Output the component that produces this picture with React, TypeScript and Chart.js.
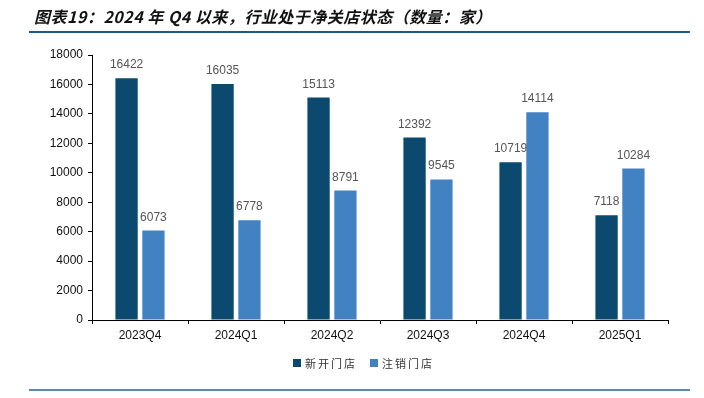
import React, { useEffect, useRef } from "react";
import { Chart, registerables } from "chart.js";

Chart.register(...registerables);

const categories = ["2023Q4", "2024Q1", "2024Q2", "2024Q3", "2024Q4", "2025Q1"];
const openedStores = [16422, 16035, 15113, 12392, 10719, 7118];
const closedStores = [6073, 6778, 8791, 9545, 14114, 10284];
const seriesNames = ["新开门店", "注销门店"];
const yTicks = [0, 2000, 4000, 6000, 8000, 10000, 12000, 14000, 16000, 18000];
const titleText = "图表19：2024 年 Q4 以来，行业处于净关店状态（数量：家）";

const DARK = "#0b4a6e";
const LIGHT = "#4382c2";

const valueLabels = {
  id: "valueLabels",
  afterDatasetsDraw(chart: any) {
    const ctx = chart.ctx;
    ctx.save();
    ctx.font = "12px 'Liberation Sans', Arial, sans-serif";
    ctx.fillStyle = "#555555";
    ctx.textAlign = "center";
    ctx.textBaseline = "alphabetic";
    chart.data.datasets.forEach((ds: any, i: number) => {
      const meta = chart.getDatasetMeta(i);
      meta.data.forEach((el: any, j: number) => {
        ctx.fillText(String(ds.data[j]), el.x, el.y - 10);
      });
    });
    ctx.restore();
  },
};

export default function App() {
  const ref = useRef<HTMLCanvasElement | null>(null);
  useEffect(() => {
    if (!ref.current) return;
    const chart = new Chart(ref.current, {
      type: "bar",
      data: {
        labels: categories,
        datasets: [
          {
            label: seriesNames[0],
            data: openedStores,
            backgroundColor: DARK,
            barPercentage: 0.83,
            categoryPercentage: 0.56,
          },
          {
            label: seriesNames[1],
            data: closedStores,
            backgroundColor: LIGHT,
            barPercentage: 0.83,
            categoryPercentage: 0.56,
          },
        ],
      },
      options: {
        responsive: false,
        animation: false,
        layout: { padding: { left: 0, top: 55, right: 36, bottom: 0 } },
        plugins: {
          legend: { display: false },
          tooltip: { enabled: false },
          title: { display: false },
        },
        scales: {
          x: {
            afterFit: (s: any) => {
              s.height = 78;
            },
            grid: {
              display: true,
              drawOnChartArea: false,
              offset: true,
              tickLength: 4,
              color: "#000",
            },
            border: { display: true, color: "#000", width: 1 },
            ticks: {
              color: "#111",
              font: { size: 12, family: "'Liberation Sans', Arial, sans-serif" },
              padding: 4,
            },
          },
          y: {
            min: 0,
            max: 18000,
            afterFit: (s: any) => {
              s.width = 92;
            },
            afterBuildTicks: (s: any) => {
              s.ticks = yTicks.map((v) => ({ value: v }));
            },
            grid: {
              display: true,
              drawOnChartArea: false,
              tickLength: 4,
              color: "#000",
            },
            border: { display: true, color: "#000", width: 1 },
            ticks: {
              color: "#111",
              font: { size: 12, family: "'Liberation Sans', Arial, sans-serif" },
              padding: 5,
              callback: (v: any) => String(v),
            },
          },
        },
      },
      plugins: [valueLabels],
    });
    return () => chart.destroy();
  }, []);

  return (
    <div style={{ position: "absolute", left: 0, top: 0, width: 704, height: 398, background: "#fff", overflow: "hidden" }}>
      <canvas ref={ref} width={704} height={398} style={{ position: "absolute", left: 0, top: 0 }} />
      <div
        style={{
          position: "absolute",
          left: 34,
          top: 5,
          fontFamily: "'Noto Sans CJK SC', sans-serif",
          fontSize: 16,
          fontWeight: "bold",
          fontStyle: "italic",
          letterSpacing: "0.5px",
          color: "#111",
          whiteSpace: "pre",
          lineHeight: "22px",
        }}
      >
        {titleText}
      </div>
      <div style={{ position: "absolute", left: 29, top: 31, width: 661, height: 2, background: "#1f5a86" }} />
      <div style={{ position: "absolute", left: 29, top: 389, width: 661, height: 2, background: "#5b8ba7" }} />
      <div
        style={{
          position: "absolute",
          left: 293,
          top: 355,
          display: "flex",
          alignItems: "center",
          fontFamily: "'Noto Sans CJK SC', sans-serif",
          fontSize: 11,
          letterSpacing: "2px",
          color: "#333",
          lineHeight: "16px",
        }}
      >
        <span style={{ width: 8, height: 8, background: DARK, display: "inline-block", marginRight: 4 }} />
        <span>{seriesNames[0]}</span>
        <span style={{ width: 8, height: 8, background: LIGHT, display: "inline-block", marginLeft: 13, marginRight: 4 }} />
        <span>{seriesNames[1]}</span>
      </div>
    </div>
  );
}
